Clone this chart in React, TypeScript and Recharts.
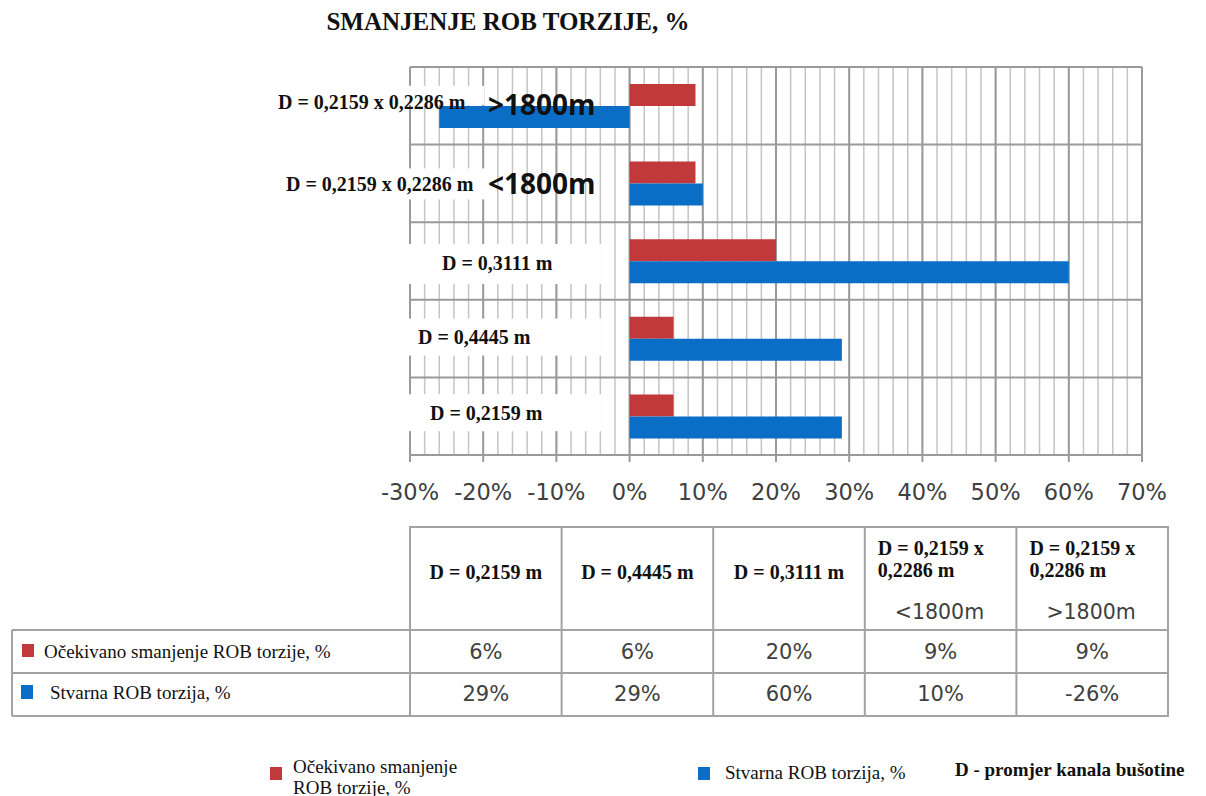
import React from 'react'
import { BarChart, Bar, XAxis, YAxis, CartesianGrid, Legend } from 'recharts'

// rows of the chart, top to bottom
const categories = ['>1800m', '<1800m', '0,3111', '0,4445', '0,2159']
const diameterLabels = [
  'D = 0,2159 x 0,2286 m',
  'D = 0,2159 x 0,2286 m',
  'D = 0,3111 m',
  'D = 0,4445 m',
  'D = 0,2159 m',
]
const depthLabels = ['>1800m', '<1800m', '', '', '']
const expectedReduction = [9, 9, 20, 6, 6]
const actualTorque = [-26, 10, 60, 29, 29]
const xTicks = [-30, -20, -10, 0, 10, 20, 30, 40, 50, 60, 70]

const seriesNames = ['Očekivano smanjenje ROB torzije, %', 'Stvarna ROB torzija, %']
const RED = '#C1393A'
const BLUE = '#0B6EC6'
const SERIF = '"Liberation Serif", "Times New Roman", serif'
const SANS = '"DejaVu Sans", sans-serif'

const data = categories.map((c, i) => ({
  name: c,
  expected: expectedReduction[i],
  actual: actualTorque[i],
}))

// minor grid every 2 %
const minorValues: number[] = []
for (let v = -30; v <= 70; v += 2) minorValues.push(v)

// white label boxes, relative to the band centre
const labelLayout = [
  { boxX: 272, boxW: 212, boxTop: -20, boxH: 19, textX: 278, dy: -4 },
  { boxX: 282, boxW: 204, boxTop: -15, boxH: 31, textX: 286, dy: 1 },
  { boxX: 405, boxW: 196, boxTop: -17, boxH: 40, textX: 442, dy: 2 },
  { boxX: 405, boxW: 196, boxTop: -20, boxH: 37, textX: 418, dy: -2 },
  { boxX: 405, boxW: 196, boxTop: -22, boxH: 37, textX: 430, dy: -3 },
]

function CategoryTick(props: any) {
  const { y, payload } = props
  const i = categories.indexOf(payload.value)
  if (i < 0) return null
  const l = labelLayout[i]
  return (
    <g>
      <rect x={l.boxX} y={y + l.boxTop} width={l.boxW} height={l.boxH} fill="#fff" />
      <text
        x={l.textX}
        y={y + l.dy}
        dominantBaseline="central"
        fontFamily={SERIF}
        fontWeight="bold"
        fontSize={20}
        fill="#111"
      >
        {diameterLabels[i]}
      </text>
      {depthLabels[i] && (
        <text
          x={488}
          y={y + (i === 0 ? -2 : 0)}
          dominantBaseline="central"
          fontFamily='"Open Sans", sans-serif'
          fontWeight="bold"
          fontSize={28}
          fill="#111"
        >
          {depthLabels[i]}
        </text>
      )}
    </g>
  )
}

function minorGrid({ xAxis, offset }: any) {
  if (xAxis && typeof xAxis.scale === 'function') return minorValues.map((v) => xAxis.scale(v))
  return minorValues.map((v) => offset.left + ((v + 30) / 100) * offset.width)
}

function bandBoundaries({ offset }: any) {
  return categories.concat(['']).map((_, i) => offset.top + (i * offset.height) / categories.length)
}

function BottomLegend() {
  return (
    <div style={{ position: 'relative', width: 1206, height: 40, fontFamily: SERIF, fontSize: 19, color: '#111' }}>
      <div style={{ position: 'absolute', left: 270, top: 10, width: 12, height: 13, background: RED }} />
      <div style={{ position: 'absolute', left: 293, top: -1, lineHeight: '21px' }}>
        Očekivano smanjenje
        <br />
        ROB torzije, %
      </div>
      <div style={{ position: 'absolute', left: 698, top: 10, width: 12, height: 13, background: BLUE }} />
      <div style={{ position: 'absolute', left: 725, top: 5, lineHeight: '21px' }}>{seriesNames[1]}</div>
      <div style={{ position: 'absolute', left: 955, top: 2, lineHeight: '21px', fontWeight: 'bold' }}>
        D - promjer kanala bušotine
      </div>
    </div>
  )
}

function DataTable() {
  const cols = categories.map((_, i) => categories.length - 1 - i) // bottom row first
  const left = 410
  const colW = 151.6
  const top = 527
  const headBottom = 630
  const row1 = 673
  const row2 = 716
  const right = left + colW * cols.length
  const line = '#a3a3a3'
  return (
    <svg width={1206} height={796} style={{ position: 'absolute', left: 0, top: 0, pointerEvents: 'none' }}>
      <g stroke={line} strokeWidth={2} fill="none">
        <rect x={left} y={top} width={right - left} height={row2 - top} />
        <line x1={12} y1={headBottom} x2={right} y2={headBottom} />
        <line x1={12} y1={row1} x2={right} y2={row1} />
        <line x1={12} y1={row2} x2={left} y2={row2} />
        <line x1={12} y1={headBottom} x2={12} y2={row2} />
        {cols.map((_, k) => (k > 0 ? <line key={k} x1={left + k * colW} y1={top} x2={left + k * colW} y2={row2} /> : null))}
      </g>
      <rect x={22} y={644} width={12} height={13} fill={RED} />
      <text x={44} y={651} dominantBaseline="central" fontFamily={SERIF} fontSize={19} fill="#111">
        {seriesNames[0]}
      </text>
      <rect x={21} y={685} width={12} height={14} fill={BLUE} />
      <text x={50} y={692} dominantBaseline="central" fontFamily={SERIF} fontSize={19} fill="#111">
        {seriesNames[1]}
      </text>
      {cols.map((ci, k) => {
        const cx = left + k * colW + colW / 2
        const x0 = left + k * colW
        const lbl = diameterLabels[ci]
        const split = lbl.indexOf(' x ')
        return (
          <g key={k}>
            {split < 0 ? (
              <text x={cx} y={572} textAnchor="middle" dominantBaseline="central" fontFamily={SERIF} fontWeight="bold" fontSize={20} fill="#111">
                {lbl}
              </text>
            ) : (
              <g>
                <text x={x0 + 13} y={548} dominantBaseline="central" fontFamily={SERIF} fontWeight="bold" fontSize={20} fill="#111">
                  {lbl.slice(0, split + 2)}
                </text>
                <text x={x0 + 13} y={570} dominantBaseline="central" fontFamily={SERIF} fontWeight="bold" fontSize={20} fill="#111">
                  {lbl.slice(split + 3)}
                </text>
                <text x={x0 + 30} y={612} dominantBaseline="central" fontFamily={SANS} fontSize={20.5} fill="#404040">
                  {depthLabels[ci]}
                </text>
              </g>
            )}
            <text x={cx} y={652} textAnchor="middle" dominantBaseline="central" fontFamily={SANS} fontSize={21} fill="#404040">
              {`${expectedReduction[ci]}%`}
            </text>
            <text x={cx} y={694} textAnchor="middle" dominantBaseline="central" fontFamily={SANS} fontSize={21} fill="#404040">
              {`${actualTorque[ci]}%`}
            </text>
          </g>
        )
      })}
    </svg>
  )
}

export default function App() {
  return (
    <div style={{ position: 'absolute', left: 0, top: 0, width: 1206, height: 796, background: '#fff', fontFamily: SERIF }}>
      <div
        style={{
          position: 'absolute',
          left: 0,
          top: 8,
          width: 1016,
          textAlign: 'center',
          fontFamily: SERIF,
          fontWeight: 'bold',
          fontSize: 25,
          color: '#111',
        }}
      >
        SMANJENJE ROB TORZIJE, %
      </div>
      <BarChart
        width={1206}
        height={796}
        data={data}
        layout="vertical"
        margin={{ top: 67, right: 64, bottom: 301, left: 409 }}
        barGap={0}
        barSize={22}
        style={{ position: 'absolute', left: 0, top: 0 }}
      >
        <CartesianGrid
          stroke="#c4c4c4"
          strokeWidth={1.5}
          horizontal={false}
          verticalCoordinatesGenerator={minorGrid}
        />
        <CartesianGrid stroke="#9a9a9a" strokeWidth={2} horizontalCoordinatesGenerator={bandBoundaries} />
        <XAxis
          type="number"
          domain={[-30, 70]}
          ticks={xTicks}
          allowDataOverflow
          height={40}
          tickFormatter={(v: number) => `${v}%`}
          tick={{ fill: '#404040', fontSize: 22.5, fontFamily: SANS }}
          axisLine={{ stroke: '#9a9a9a', strokeWidth: 2 }}
          tickLine={{ stroke: '#9a9a9a', strokeWidth: 2 }}
          tickSize={7}
          tickMargin={22}
        />
        <YAxis
          type="category"
          dataKey="name"
          width={1}
          axisLine={false}
          tickLine={false}
          interval={0}
          tick={(p: any) => <CategoryTick {...p} />}
        />
        <Bar dataKey="expected" name={seriesNames[0]} fill={RED} isAnimationActive={false} />
        <Bar dataKey="actual" name={seriesNames[1]} fill={BLUE} isAnimationActive={false} />
        <Legend
          layout="horizontal"
          verticalAlign="middle"
          align="center"
          wrapperStyle={{ left: 0, top: 757, width: 1206, height: 40 }}
          content={() => <BottomLegend />}
        />
      </BarChart>
      <DataTable />
    </div>
  )
}
